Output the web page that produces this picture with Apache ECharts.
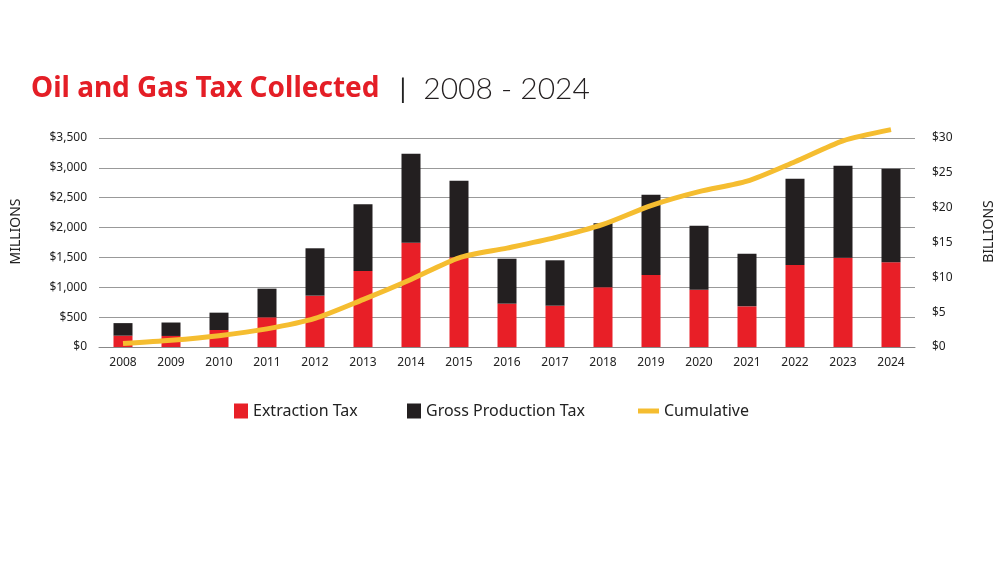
<!DOCTYPE html>
<html><head><meta charset="utf-8">
<script src="https://cdn.jsdelivr.net/npm/echarts@6/dist/echarts.min.js"></script>
<style>html,body{margin:0;padding:0;background:#fff}#c{width:1000px;height:563px}</style>
</head><body><div id="c"></div>
<script>
const years = ['2008','2009','2010','2011','2012','2013','2014','2015','2016','2017','2018','2019','2020','2021','2022','2023','2024'];
const extractionTax = [190,185,285,497,860,1273,1747,1502,726,692,1000,1206,960,681,1374,1496,1418];
const grossProductionTax = [210,225,290,480,793,1117,1491,1284,753,760,1072,1345,1072,882,1445,1541,1569];
const cumulative = [0.5,0.97,1.63,2.6,4.1,6.8,9.7,12.8,14.2,15.7,17.6,20.3,22.3,23.8,26.6,29.6,31.2];
const leftTicks = {min:0, max:3500, interval:500};
const rightTicks = {min:0, max:30, interval:5};

const chart = echarts.init(document.getElementById('c'), null, {renderer:'canvas'});
const font = '"Noto Sans", "Open Sans", sans-serif';
const legendCommon = {top:398, itemGap:10, textStyle:{fontFamily:font, fontSize:16, color:'#222'}};
chart.setOption({
  animation:false,
  backgroundColor:'#fff',
  title:{
    left:26, top:69,
    text:'{a|Oil and Gas Tax Collected}{b||}{c|2008 - 2024}',
    textStyle:{rich:{
      a:{fontFamily:'"Noto Sans", sans-serif', fontWeight:'bold', fontSize:28, color:'#E41E26'},
      b:{fontFamily:'"Lato", sans-serif', fontWeight:'normal', fontSize:27, color:'#222', padding:[0,17,0,20]},
      c:{fontFamily:'"Lato", "Noto Sans", sans-serif', fontWeight:300, fontSize:30, color:'#231F20'}
    }}
  },
  legend:[
    Object.assign({left:229, data:[{name:'Extraction Tax', icon:'rect'}], itemWidth:14, itemHeight:15}, legendCommon),
    Object.assign({left:402, data:[{name:'Gross Production Tax', icon:'rect'}], itemWidth:14, itemHeight:15}, legendCommon),
    Object.assign({left:633, data:[{name:'Cumulative', icon:'rect'}], itemWidth:21, itemHeight:5}, legendCommon)
  ],
  grid:{left:99, width:816, top:138, height:209, outerBoundsMode:'none', containLabel:false},
  xAxis:{
    type:'category', data:years,
    axisLine:{lineStyle:{color:'#888', width:1}},
    axisTick:{show:false},
    axisLabel:{fontFamily:font, fontSize:12, color:'#222', margin:10}
  },
  yAxis:[
    {type:'value', min:leftTicks.min, max:leftTicks.max, interval:leftTicks.interval,
     name:'MILLIONS', nameLocation:'middle', nameRotate:90, nameGap:76,
     nameTextStyle:{fontFamily:font, fontSize:14, color:'#222', letterSpacing:2, padding:[0,0,0,22]},
     axisLine:{show:false}, axisTick:{show:false},
     splitLine:{lineStyle:{color:'#999', width:1}},
     axisLabel:{fontFamily:font, fontSize:12, color:'#222', margin:12,
       formatter:v=>'$'+v.toLocaleString('en-US')}},
    {type:'value', min:rightTicks.min, max:rightTicks.max, interval:rightTicks.interval, position:'right',
     name:'BILLIONS', nameLocation:'middle', nameRotate:90, nameGap:67,
     nameTextStyle:{fontFamily:font, fontSize:14, color:'#222', letterSpacing:2, padding:[0,0,0,22]},
     axisLine:{show:false}, axisTick:{show:false}, splitLine:{show:false},
     axisLabel:{fontFamily:font, fontSize:12, color:'#222', margin:17, formatter:v=>'$'+v}}
  ],
  series:[
    {name:'Extraction Tax', type:'bar', stack:'t', data:extractionTax, barWidth:19,
     itemStyle:{color:'#E81F27'}},
    {name:'Gross Production Tax', type:'bar', stack:'t', data:grossProductionTax, barWidth:19,
     itemStyle:{color:'#231F20'}},
    {name:'Cumulative', type:'line', yAxisIndex:1, data:cumulative, smooth:0.25, clip:false,
     symbol:'none', lineStyle:{color:'#F5BD30', width:5}, itemStyle:{color:'#F5BD30'}}
  ]
});
</script></body></html>
